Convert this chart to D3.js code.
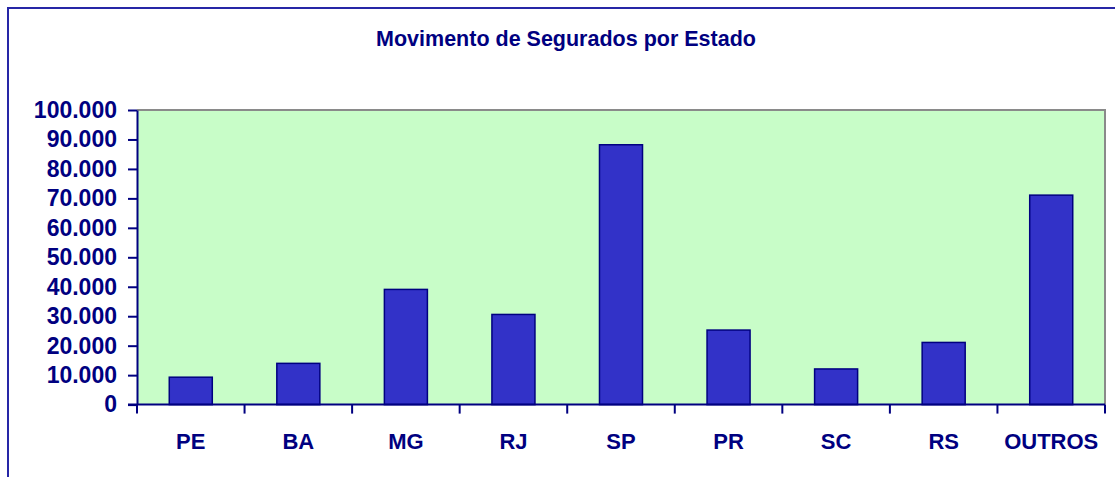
<!DOCTYPE html>
<html>
<head>
<meta charset="utf-8">
<script src="https://cdn.jsdelivr.net/npm/d3@7"></script>
<style>
  body { margin: 0; background: #fff; }
  svg { display: block; font-family: "Liberation Sans", Arial, sans-serif; font-weight: bold; }
</style>
</head>
<body>
<svg id="chart"></svg>
<script>
// dados
const estados = ["PE", "BA", "MG", "RJ", "SP", "PR", "SC", "RS", "OUTROS"];
const segurados = [9300, 14000, 39100, 30600, 88200, 25300, 12100, 21100, 71100];
const yTicks = [0, 10000, 20000, 30000, 40000, 50000, 60000, 70000, 80000, 90000, 100000];
const titulo = "Movimento de Segurados por Estado";

const width = 1115, height = 477;
const margin = {top: 110, right: 10, bottom: 72.4, left: 137};
const navy = "#000080";

const svg = d3.select("#chart")
    .attr("width", width)
    .attr("height", height)
    .attr("viewBox", [0, 0, width, height]);

// moldura externa (cortada à direita e embaixo)
svg.append("path")
    .attr("fill", "none")
    .attr("stroke", "#2626a6")
    .attr("stroke-width", 2)
    .attr("d", `M8,${height + 5}V8H${width + 5}`);

svg.append("text")
    .attr("x", 566)
    .attr("y", 45.5)
    .attr("text-anchor", "middle")
    .attr("fill", navy)
    .attr("font-size", 21.5)
    .text(titulo);

const x = d3.scaleBand()
    .domain(estados)
    .range([margin.left, width - margin.right])
    .paddingInner(0.6)
    .paddingOuter(0.3);

const xCat = d3.scaleBand()
    .domain(estados)
    .range([margin.left, width - margin.right]);

const y = d3.scaleLinear()
    .domain([0, 100000])
    .range([height - margin.bottom, margin.top]);

// área de plotagem
svg.append("rect")
    .attr("x", margin.left)
    .attr("y", margin.top)
    .attr("width", width - margin.right - margin.left)
    .attr("height", y(0) - margin.top)
    .attr("fill", "#c8fdc8");

svg.append("path")
    .attr("fill", "none")
    .attr("stroke", "#8a8a8a")
    .attr("stroke-width", 2)
    .attr("d", `M${margin.left},${margin.top}H${width - margin.right}V${y(0)}`);

svg.append("g")
    .selectAll("rect")
    .data(segurados)
    .join("rect")
      .attr("x", (d, i) => x(estados[i]))
      .attr("y", d => y(d))
      .attr("width", x.bandwidth())
      .attr("height", d => y(0) - y(d))
      .attr("fill", "#3232c8")
      .attr("stroke", navy)
      .attr("stroke-width", 1.5);

const fmt = d3.formatLocale({decimal: ",", thousands: ".", grouping: [3], currency: ["R$", ""]}).format(",d");

svg.append("g")
    .attr("transform", `translate(${margin.left},0)`)
    .call(d3.axisLeft(y).tickValues(yTicks).tickFormat(fmt).tickSize(9).tickPadding(11).tickSizeOuter(0))
    .call(g => g.select(".domain").attr("stroke", navy).attr("stroke-width", 2))
    .call(g => g.selectAll(".tick line").attr("stroke", navy).attr("stroke-width", 2))
    .call(g => g.selectAll(".tick text")
        .attr("fill", navy)
        .attr("font-size", 23)
        .attr("font-family", "Liberation Sans, Arial, sans-serif")
        .attr("font-weight", "bold"));

// eixo x: marcas nas divisões entre categorias
const bordas = estados.map(e => xCat(e)).concat([width - margin.right]);
const xAxis = svg.append("g")
    .attr("transform", `translate(0,${y(0)})`);
xAxis.append("path")
    .attr("stroke", navy)
    .attr("stroke-width", 2)
    .attr("d", `M${margin.left - 9},0H${width - margin.right}`);
xAxis.selectAll("line")
    .data(bordas)
    .join("line")
      .attr("x1", d => d).attr("x2", d => d)
      .attr("y1", 0).attr("y2", 9)
      .attr("stroke", navy)
      .attr("stroke-width", 2);
xAxis.selectAll("text")
    .data(estados)
    .join("text")
      .attr("x", d => xCat(d) + xCat.bandwidth() / 2)
      .attr("y", 44.5)
      .attr("text-anchor", "middle")
      .attr("fill", navy)
      .attr("font-size", 22)
      .text(d => d);
</script>
</body>
</html>
